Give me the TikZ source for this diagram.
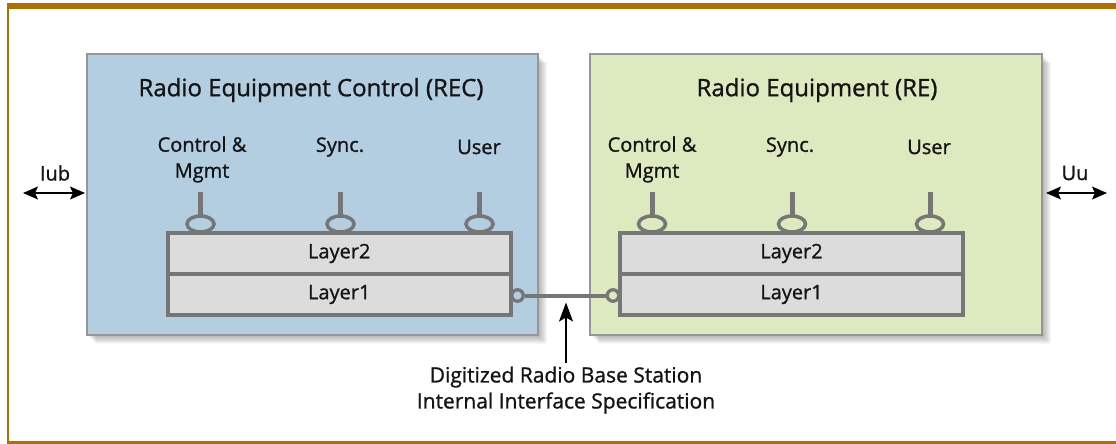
\documentclass[tikz,border=0pt]{standalone}
\usepackage{fontspec}
\setmainfont{Open Sans}[FakeBold=1]
\usetikzlibrary{arrows.meta}
\definecolor{gold}{RGB}{174,112,0}
\definecolor{recfill}{RGB}{179,206,224}
\definecolor{refill}{RGB}{221,234,192}
\definecolor{layerfill}{RGB}{220,220,220}
\definecolor{layerline}{RGB}{118,118,118}
\definecolor{boxline}{RGB}{150,150,150}
\definecolor{txt}{RGB}{20,20,20}
\begin{document}
\begin{tikzpicture}[x=1pt,y=-1pt,
  every node/.style={text=txt},
  bigbox/.style={draw=boxline,line width=1.3pt,minimum height=281pt,inner sep=0pt},
  layerbox/.style={draw=layerline,fill=layerfill,line width=4.5pt,minimum height=41pt,inner sep=0pt,font=\fontsize{20}{24}\selectfont},
  titletext/.style={font=\fontsize{24}{28}\selectfont,inner sep=0pt},
  lbl/.style={font=\fontsize{20}{26}\selectfont,align=center,inner sep=0pt},
  stem/.style={draw=layerline,line width=5pt},
  sapring/.style={draw=layerline,line width=3.5pt},
  port/.style={circle,draw=layerline,line width=3.3pt,minimum size=11.5pt,inner sep=0pt},
  biarrow/.style={{Stealth[length=15pt,width=13pt,inset=3pt]}-{Stealth[length=15pt,width=13pt,inset=3pt]},line width=1.4pt,black},
  shade/.style={black,opacity=0.035}
]
\useasboundingbox (0,0) rectangle (1116,444);
\fill[white] (0,0) rectangle (1116,444);
% frame
\fill[gold] (7,3) rectangle (1116,9.5);
\fill[gold] (7,440.5) rectangle (1116,444);
\fill[gold] (7,3) rectangle (9,444);

% shadows
\foreach \s in {1,...,9} {
  \fill[shade] (87+\s,54+\s) rectangle (538+\s,335+\s);
  \fill[shade] (590+\s,54+\s) rectangle (1042+\s,335+\s);
}

% big boxes
\node[bigbox,fill=recfill,minimum width=451pt] (rec) at (312.5,194.5) {};
\node[bigbox,fill=refill,minimum width=452pt] (re) at (816,194.5) {};

\node[titletext] (rect) at (311,90) {Radio Equipment Control (REC)};
\node[titletext] (ret) at (817,90) {Radio Equipment (RE)};

% labels
\node[lbl] (cm1) at (202,159.5) {Control \&\\Mgmt};
\node[lbl] (sy1) at (340,147) {Sync.};
\node[lbl] (us1) at (479,147) {User};
\node[lbl] (cm2) at (652,159.5) {Control \&\\Mgmt};
\node[lbl] (sy2) at (790,147) {Sync.};
\node[lbl] (us2) at (929,147) {User};

% SAPs
\foreach \x/\f in {200.5/recfill,340.5/recfill,479.5/recfill,652/refill,792/refill,930/refill} {
  \draw[stem] (\x,192) -- (\x,217);
  \draw[sapring,fill=\f] (\x,224) ellipse [x radius=13.5pt, y radius=8pt];
}

% layers
\node[layerbox,minimum width=343pt] (l2a) at (339.25,253.5) {Layer2};
\node[layerbox,minimum width=343pt] (l1a) at (339.25,294.5) {Layer1};
\node[layerbox,minimum width=343pt] (l2b) at (791.5,253.5) {Layer2};
\node[layerbox,minimum width=343pt] (l1b) at (791.5,294.5) {Layer1};

% link
\node[port,fill=recfill] (c1) at (517.5,295.5) {};
\node[port,fill=refill] (c2) at (613,295.5) {};
\draw[layerline,line width=4pt] (c1) -- (c2);
\coordinate (lk) at (566,295.5);

% bottom text + arrow
\node[font=\fontsize{21}{26}\selectfont,align=center,inner sep=3pt] (dig) at (566,390) {Digitized Radio Base Station\\Internal Interface Specification};
\draw[-{Stealth[length=19pt,width=14pt,inset=4pt]},line width=1.2pt,black,shorten >=7pt] (dig.north) -- (lk);

% Iub / Uu
\coordinate (iubL) at (23,193);
\coordinate (iubR) at (85,193);
\coordinate (uuL) at (1046,193);
\coordinate (uuR) at (1107,193);
\draw[biarrow] (iubL) -- (iubR);
\draw[biarrow] (uuL) -- (uuR);
\node[lbl] (iub) at (55,173) {Iub};
\node[lbl] (uu) at (1075,173) {Uu};
\end{tikzpicture}
\end{document}
